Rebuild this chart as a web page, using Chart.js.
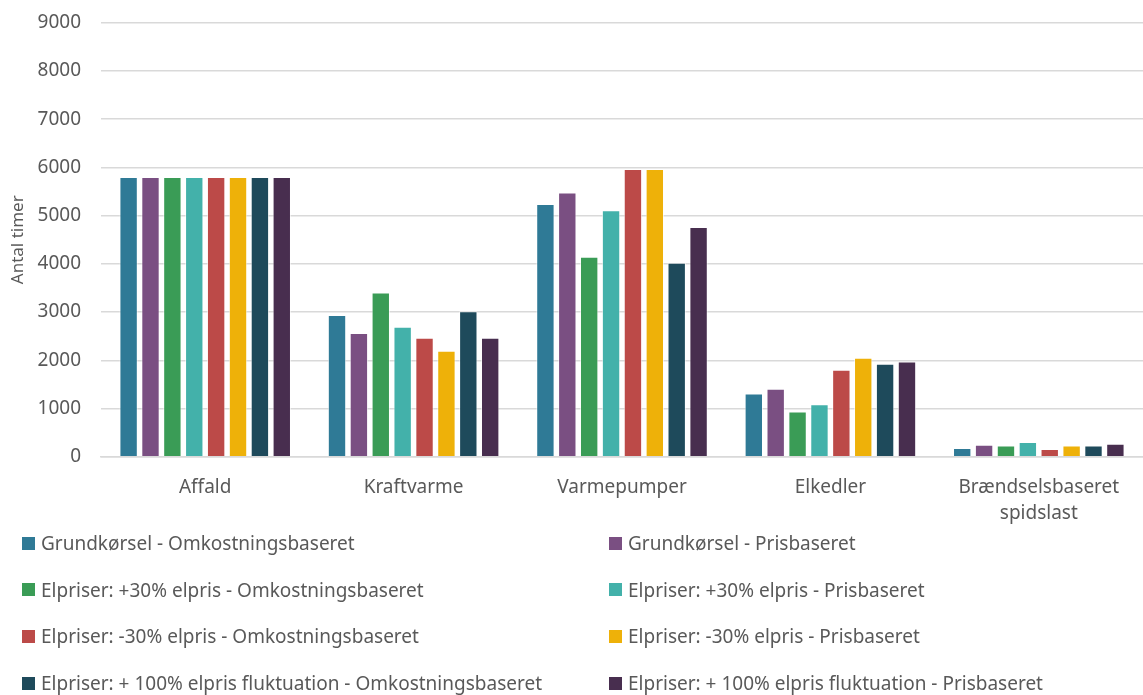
<!DOCTYPE html>
<html>
<head>
<meta charset="utf-8">
<script src="https://cdn.jsdelivr.net/npm/chart.js@4"></script>
<style>
  body { margin: 0; background: #fff; font-family: "Noto Sans", sans-serif; overflow: hidden; }
  #wrap { position: absolute; left: 0; top: -10px; width: 1143px; height: 546px; }
  #legend { position: absolute; left: 22px; top: 528px; width: 1121px;
            display: grid; grid-template-columns: 587px 534px; grid-auto-rows: 46.7px; }
  .item { display: flex; align-items: center; font-size: 19px; color: #595959; height: 30px; }
  .box { width: 13px; height: 13px; margin-right: 6px; }
</style>
</head>
<body>
<div id="wrap"><canvas id="chart"></canvas></div>
<div id="legend"></div>
<script>
var categories = ["Affald", "Kraftvarme", "Varmepumper", "Elkedler", ["Brændselsbaseret", "spidslast"]];

var seriesNames = [
  "Grundkørsel - Omkostningsbaseret",
  "Grundkørsel - Prisbaseret",
  "Elpriser: +30% elpris - Omkostningsbaseret",
  "Elpriser: +30% elpris - Prisbaseret",
  "Elpriser: -30% elpris - Omkostningsbaseret",
  "Elpriser: -30% elpris - Prisbaseret",
  "Elpriser: + 100% elpris fluktuation - Omkostningsbaseret",
  "Elpriser: + 100% elpris fluktuation - Prisbaseret"
];

var grundOmk   = [5800, 2940, 5240, 1310, 180];
var grundPris  = [5800, 2565, 5480, 1410, 250];
var plus30Omk  = [5800, 3405, 4150, 940, 230];
var plus30Pris = [5800, 2695, 5110, 1090, 305];
var minus30Omk = [5800, 2470, 5970, 1805, 160];
var minus30Pris= [5800, 2200, 5970, 2055, 230];
var flukOmk    = [5800, 3015, 4025, 1930, 230];
var flukPris   = [5800, 2470, 4765, 1975, 270];

var colors = ["#2F7A96", "#7A4F82", "#3A9C56", "#43B1AA", "#BC4A48", "#EEB109", "#1E4A5B", "#482E4F"];

var seriesValues = [grundOmk, grundPris, plus30Omk, plus30Pris, minus30Omk, minus30Pris, flukOmk, flukPris];

var datasets = seriesNames.map(function(name, i) {
  return {
    label: name,
    data: seriesValues[i],
    backgroundColor: colors[i],
    borderColor: "rgba(255,255,255,0.6)",
    borderWidth: 1,
    barPercentage: 0.84,
    categoryPercentage: 0.84
  };
});

var tickFont = { family: "Noto Sans", size: 19, lineHeight: 1.35 };

var chart = new Chart("chart", {
  type: "bar",
  data: { labels: categories, datasets: datasets },
  options: {
    responsive: true,
    maintainAspectRatio: false,
    animation: false,
    layout: { padding: { top: 0, right: 0, left: 8, bottom: 0 } },
    plugins: { legend: { display: false }, tooltip: { enabled: false } },
    scales: {
      x: {
        grid: { display: false },
        border: { color: "#d9d9d9", width: 1.5 },
        ticks: { color: "#595959", font: tickFont, padding: 10 }
      },
      y: {
        min: 0, max: 9000,
        afterFit: function(scale) { scale.width = 93; },
        ticks: {
          stepSize: 1000, color: "#595959", font: tickFont, padding: 20,
          callback: function(v) { return String(v); }
        },
        grid: { color: "#d9d9d9", lineWidth: 1.5, drawTicks: false },
        border: { display: false },
        title: { display: true, text: "Antal timer", color: "#595959", font: { family: "Noto Sans", size: 17 }, padding: 0 }
      }
    }
  }
});

// legend in two columns under the chart
var legend = document.getElementById("legend");
chart.data.datasets.forEach(function(ds) {
  var item = document.createElement("div");
  item.className = "item";
  var box = document.createElement("span");
  box.className = "box";
  box.style.background = ds.backgroundColor;
  item.appendChild(box);
  item.appendChild(document.createTextNode(ds.label));
  legend.appendChild(item);
});
</script>
</body>
</html>
